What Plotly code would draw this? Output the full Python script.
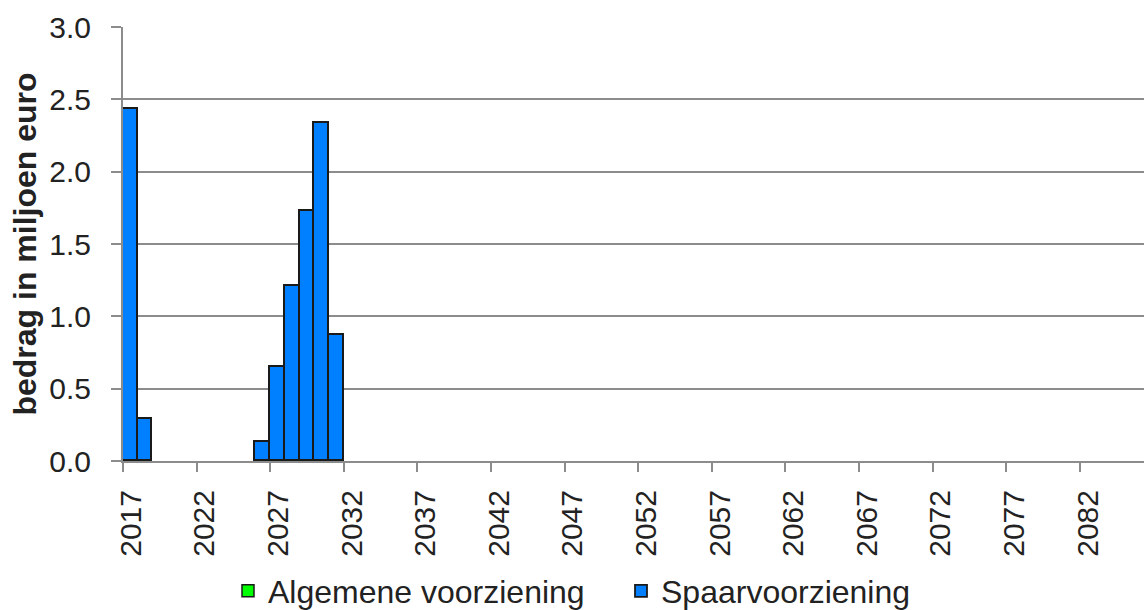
import plotly.graph_objects as go

years = list(range(2017, 2087))
spaar_years = [2017, 2018, 2026, 2027, 2028, 2029, 2030, 2031]
spaar_vals = [2.43, 0.288, 0.133, 0.648, 1.21, 1.73, 2.334, 0.871]
spaar = [spaar_vals[spaar_years.index(y)] if y in spaar_years else 0 for y in years]
algemeen = [0 for y in years]
tick_years = list(range(2017, 2087, 5))
tick_labels = [str(y) for y in tick_years]
y_ticks = [0, 0.5, 1.0, 1.5, 2.0, 2.5, 3.0]
y_labels = ["0.0", "0.5", "1.0", "1.5", "2.0", "2.5", "3.0"]

FONT = "Liberation Sans, Arial, sans-serif"
W, H = 1144, 610
L, T, B = 123, 27, 149

fig = go.Figure()
fig.add_trace(go.Bar(
    x=years, y=[v if v else None for v in algemeen], name="Algemene voorziening",
    marker=dict(color="#00FF00", line=dict(color="#1a1a1a", width=1.5)), width=1,
    legend="legend",
))
fig.add_trace(go.Bar(
    x=years, y=[v if v else None for v in spaar], name="Spaarvoorziening",
    marker=dict(color="#0080FF", line=dict(color="#1a1a1a", width=1.8)), width=1,
    legend="legend2",
))
legend_common = dict(orientation="h", yanchor="middle", xanchor="left",
                     xref="container", yref="container",
                     font=dict(size=32, color="#222222"), itemwidth=30,
                     bgcolor="rgba(0,0,0,0)", borderwidth=0)
LEG_Y = 591
fig.update_layout(
    width=W, height=H,
    margin=dict(l=L, r=0, t=T, b=B),
    paper_bgcolor="white", plot_bgcolor="white",
    barmode="stack", bargap=0,
    font=dict(family=FONT, color="#222222"),
    legend=dict(x=228 / W, y=(H - LEG_Y) / H, **legend_common),
    legend2=dict(x=621 / W, y=(H - LEG_Y) / H, **legend_common),
    showlegend=True,
)
fig.update_xaxes(
    range=[2016.5, 2085.86], automargin=False,
    tickvals=[y - 0.5 for y in tick_years], ticktext=tick_labels,
    ticklabelshift=8, tickangle=-90,
    ticks="outside", ticklen=9, tickwidth=2, tickcolor="#8c8c8c",
    tickfont=dict(size=30, color="#222222"),
    showgrid=False, showline=True, linecolor="#8c8c8c", linewidth=2,
    zeroline=False, ticklabelstandoff=6,
)
fig.update_yaxes(
    range=[0, 3.0], tickvals=y_ticks, ticktext=y_labels, automargin=False,
    ticks="outside", ticklen=10, tickwidth=2, tickcolor="#8c8c8c",
    tickfont=dict(size=30, color="#222222"),
    showgrid=True, gridcolor="#8c8c8c", gridwidth=2,
    showline=True, linecolor="#8c8c8c", linewidth=2, zeroline=False,
    title=dict(text="<b>bedrag in miljoen euro</b>", font=dict(size=32, color="#222222"), standoff=3),
    ticklabelstandoff=14,
)
fig.write_html("out.html", config={"displayModeBar": False},
               post_script="document.body.style.margin='0';document.body.style.overflow='hidden';")
